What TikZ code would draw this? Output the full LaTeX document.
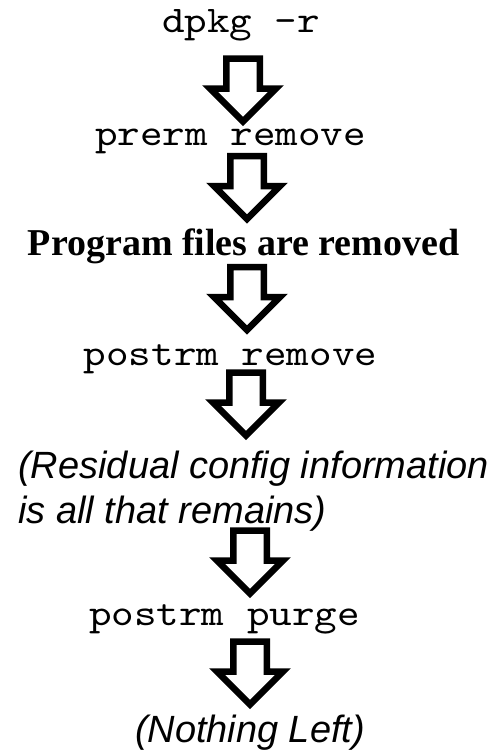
\documentclass[tikz,border=0pt]{standalone}
\usepackage{fontspec}
\setmainfont{Liberation Serif}
\setsansfont{Liberation Sans}
\newfontfamily\cmdfont[FakeStretch=1.143]{lmmono10-regular.otf}
\usetikzlibrary{calc}
\tikzset{
  cmd/.style={
    font = \cmdfont\fontsize{21.4}{25.6}\selectfont,
    inner sep = 0pt,
    anchor = base
  },
  stage/.style={
    font = \bfseries\fontsize{21.6}{25.6}\selectfont,
    inner sep = 0pt,
    anchor = base
  },
  remark/.style={
    font = \sffamily\itshape\fontsize{21.6}{25.6}\selectfont,
    inner sep = 0pt,
    anchor = base
  },
  blockarrow/.style={
    draw,
    line width = 0.13cm,
    miter limit = 4,
    fill = white
  }
}
\begin{document}
\begin{tikzpicture}
  \useasboundingbox (0,0) rectangle (9.92,-15.06);
  % steps
  \node[cmd] (dpkg) at (4.82,-0.64) {dpkg -r};
  \node[cmd] (prerm) at (4.61,-2.90) {prerm remove};
  \node[stage] (files) at (4.87,-5.10) {Program files are removed};
  \node[cmd] (postrm) at (4.61,-7.30) {postrm remove};
  \node[remark, anchor=base west, align=left] (residual) at (0.36,-10.46)
    {(Residual config information\\is all that remains)};
  \node[cmd] (purge) at (4.49,-12.50) {postrm purge};
  \node[remark] (nothing) at (5.0,-14.84) {(Nothing Left)};
  % arrows
  \foreach \x/\y in {4.86/-1.17, 4.94/-3.12, 4.94/-5.34, 4.92/-7.45, 5.0/-10.61, 5.0/-12.83}{
    \draw[blockarrow] (\x-0.335,\y) -- ++(0.67,0) -- ++(0,-0.6) -- ++(0.325,0)
      -- (\x,\y-1.26) -- ++(-0.66,0.66) -- ++(0.325,0) -- cycle;
  }
\end{tikzpicture}
\end{document}
